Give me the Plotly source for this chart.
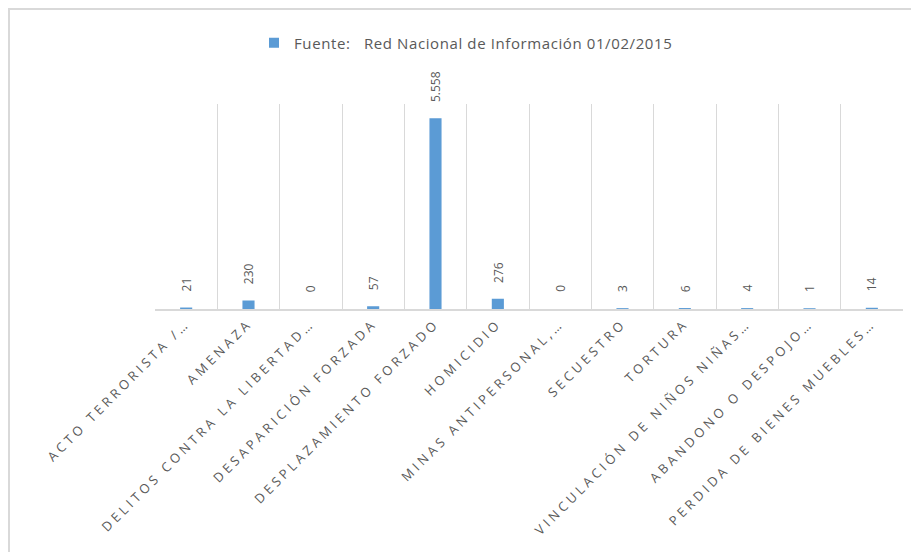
import plotly.graph_objects as go

categories = [
    "ACTO TERRORISTA /…",
    "AMENAZA",
    "DELITOS CONTRA LA LIBERTAD…",
    "DESAPARICIÓN FORZADA",
    "DESPLAZAMIENTO FORZADO",
    "HOMICIDIO",
    "MINAS ANTIPERSONAL,…",
    "SECUESTRO",
    "TORTURA",
    "VINCULACIÓN DE NIÑOS NIÑAS…",
    "ABANDONO O DESPOJO…",
    "PERDIDA DE BIENES MUEBLES…",
]
values = [21, 230, 0, 57, 5558, 276, 0, 3, 6, 4, 1, 14]
series_name = "Fuente:\u00a0\u00a0\u00a0Red Nacional de Información 01/02/2015"
y_max = 6000

BAR = "#5B9BD5"
TXT = "#595959"
GRID = "#D9D9D9"

W, H = 919, 552
ML, MR, MT, MB = 147, 24, 96, 251
pw = W - ML - MR
ph = H - MT - MB


def px_to_paper_x(px):
    return (px - ML) / pw


def px_to_paper_y(py):
    return (H - MB - py) / ph


def fmt(v):
    return f"{v:,}".replace(",", ".")


fig = go.Figure()
fig.add_trace(go.Bar(
    x=categories,
    y=values,
    marker=dict(
        color=BAR,
        line=dict(color=BAR, width=[0 if v == 0 else 1.5 for v in values]),
    ),
    showlegend=False,
    hoverinfo="x+y",
))
# legend entry (small square swatch)
fig.add_trace(go.Scatter(
    x=[None], y=[None], mode="markers",
    name=f'<span style="letter-spacing:0.6px">{series_name}</span>',
    marker=dict(symbol="square", size=10, color=BAR),
    showlegend=True,
))

for c, v in zip(categories, values):
    fig.add_annotation(
        x=c, y=v, text=fmt(v), textangle=-90, showarrow=False,
        xref="x", yref="y", yanchor="bottom", xanchor="center",
        yshift=15, font=dict(family="Open Sans", size=12, color=TXT),
    )

ticktext = [f'<span style="letter-spacing:3.6px">{c}</span>' for c in categories]

fig.update_layout(
    width=W, height=H,
    margin=dict(l=ML, r=MR, t=MT, b=MB, autoexpand=False),
    paper_bgcolor="white", plot_bgcolor="white",
    bargap=0.83,
    font=dict(family="Open Sans", color=TXT, size=12),
    showlegend=True,
    legend=dict(
        orientation="h", xref="container", yref="container",
        x=246 / W, xanchor="left", y=1 - 35 / H, yanchor="middle",
        font=dict(family="Open Sans", size=15, color=TXT),
        itemwidth=30, tracegroupgap=0,
    ),
    xaxis=dict(
        type="category",
        tickvals=categories, ticktext=ticktext,
        tickangle=-45, tickson="boundaries",
        showgrid=True, gridcolor=GRID, gridwidth=1,
        showline=True, linecolor=GRID, linewidth=1.5,
        ticks="", tickfont=dict(family="Open Sans", size=13, color=TXT),
        automargin=False, fixedrange=True,
    ),
    yaxis=dict(
        range=[0, y_max], showgrid=False, showticklabels=False,
        zeroline=False, showline=False, ticks="", fixedrange=True,
    ),
    shapes=[dict(
        type="rect", xref="paper", yref="paper", layer="below",
        x0=px_to_paper_x(1), x1=px_to_paper_x(940),
        y0=px_to_paper_y(600), y1=px_to_paper_y(1),
        line=dict(color=GRID, width=2), fillcolor="rgba(0,0,0,0)",
    )],
)

fig.write_html("out.html")
